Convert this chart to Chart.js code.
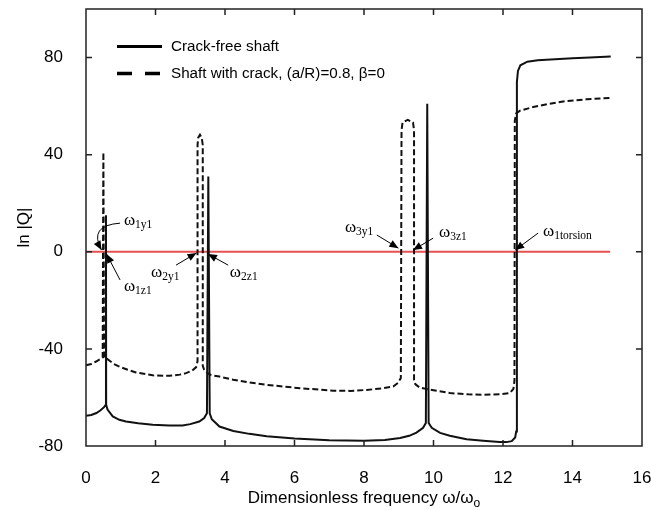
<!DOCTYPE html>
<html><head><meta charset="utf-8">
<script src="https://cdn.jsdelivr.net/npm/chart.js@4/dist/chart.umd.min.js"></script>
<style>html,body{margin:0;padding:0;background:#fff;}canvas{display:block}</style>
</head><body>
<canvas id="c" width="651" height="510"></canvas>
<script>
// ---- data ----
const crackFreeX = [0, 0.15, 0.3, 0.42, 0.52, 0.57, 0.575, 0.58, 0.62, 0.77, 0.96, 1.15, 1.5, 1.92, 2.4, 2.78, 3.0, 3.26, 3.4, 3.48, 3.52, 3.56, 3.62, 3.84, 4.24, 4.7, 5.2, 6.0, 7.0, 8.0, 8.6, 9.04, 9.3, 9.51, 9.7, 9.78, 9.82, 9.86, 9.95, 10.19, 10.47, 10.95, 11.43, 11.9, 12.1, 12.25, 12.35, 12.38, 12.4, 12.43, 12.5, 12.7, 13.0, 13.5, 14.0, 14.5, 15.1];
const crackFreeY = [-67.5, -67.2, -66.4, -65.3, -64, -63, 15, -63, -65, -67.8, -69.2, -69.9, -70.6, -71.2, -71.6, -71.6, -71, -69.9, -68.5, -66.5, 31, -66.5, -69, -72, -73.8, -75, -76, -76.9, -77.6, -77.8, -77.5, -76.7, -75.8, -74.5, -72.5, -70.5, 61, -70.5, -72.5, -74.6, -75.8, -77.2, -77.8, -78.4, -78.4, -78, -76.5, -74, 70, 74.5, 76.8, 78.3, 78.9, 79.3, 79.7, 80.0, 80.4];
const crackedX = [0, 0.15, 0.29, 0.4, 0.48, 0.5, 0.52, 0.58, 0.67, 0.8, 0.96, 1.2, 1.44, 1.92, 2.4, 2.7, 2.88, 3.05, 3.17, 3.21, 3.21, 3.23, 3.28, 3.33, 3.36, 3.36, 3.4, 3.5, 3.6, 3.84, 4.24, 4.7, 5.2, 6.16, 7.12, 7.6, 8.08, 8.5, 8.84, 8.98, 9.06, 9.08, 9.11, 9.26, 9.41, 9.44, 9.44, 9.48, 9.61, 10.0, 10.47, 11.0, 11.43, 11.9, 12.2, 12.3, 12.33, 12.34, 12.38, 12.5, 12.87, 13.3, 13.83, 14.4, 15.08];
const crackedY = [-46.8, -46.2, -45.2, -44.3, -43.5, 41, -43.5, -43.8, -44.8, -46.2, -47.3, -48.6, -49.7, -50.9, -51.1, -50.6, -50, -49, -47.5, -45, 44, 47, 48.2, 47, 44, -47, -48.6, -50, -50.8, -51.4, -52.7, -53.8, -54.8, -56.2, -57.2, -57.3, -56.9, -56.3, -55.5, -54, -52, 50, 53.3, 54.3, 53.3, 50, -52.7, -54.6, -56, -57, -58.2, -58.7, -58.9, -58.7, -58.2, -56.5, -53, 54, 57, 58.2, 59.6, 60.9, 62.1, 62.8, 63.4];
const zeroLineX = [0, 15.08];
const zeroLineY = [0, 0];
const xTickValues = [0, 2, 4, 6, 8, 10, 12, 14, 16];
const yTickValues = [-80, -40, 0, 40, 80];
const seriesNames = ['Crack-free shaft', 'Shaft with crack, (a/R)=0.8, \u03B2=0'];
const yTitle = 'ln |Q|';
const xTitleMain = 'Dimensionless frequency \u03C9/\u03C9';
const xTitleSub = 'o';
// frequency callouts: text anchor and arrow in data units
const callouts = [
  {sub: '1y1', tx: 1.09, ty: 12.6, ax: 0.98, ay: 11.8, cx: 0.06, cy: 10.8, bx: 0.446, by: 0.7},
  {sub: '1z1', tx: 1.09, ty: -14.5, ax: 0.98, ay: -11.6, bx: 0.59, by: -0.9},
  {sub: '2y1', tx: 1.87, ty: -8.8, ax: 2.59, ay: -5.5, bx: 3.18, by: -0.5},
  {sub: '2z1', tx: 4.14, ty: -8.8, ax: 4.09, ay: -5.5, bx: 3.51, by: -0.9},
  {sub: '3y1', tx: 7.45, ty: 9.7, ax: 8.37, ay: 6.9, bx: 8.99, by: 1.5},
  {sub: '3z1', tx: 10.16, ty: 7.7, ax: 9.99, ay: 5.6, bx: 9.41, by: 0.7},
  {sub: '1torsion', tx: 13.15, ty: 8.1, ax: 13.01, ay: 7.7, bx: 12.35, by: 0.7}
];

const pts = (xs, ys) => xs.map((x, i) => ({x: x, y: ys[i]}));
const SANS = '"Liberation Sans", Arial, sans-serif';
const SERIF = '"Liberation Serif", "Times New Roman", serif';

function arrowHead(ctx, fx, fy, tx, ty) {
  const ang = Math.atan2(ty - fy, tx - fx);
  const L = 9, W = 3.8;
  ctx.beginPath();
  ctx.moveTo(tx, ty);
  ctx.lineTo(tx - L * Math.cos(ang) + W * Math.sin(ang), ty - L * Math.sin(ang) - W * Math.cos(ang));
  ctx.lineTo(tx - L * Math.cos(ang) - W * Math.sin(ang), ty - L * Math.sin(ang) + W * Math.cos(ang));
  ctx.closePath();
  ctx.fill();
}

const decor = {
  id: 'decor',
  afterDraw(chart) {
    const ctx = chart.ctx, xs = chart.scales.x, ys = chart.scales.y, a = chart.chartArea;
    ctx.save();
    // frame
    ctx.strokeStyle = '#222'; ctx.lineWidth = 1.5;
    ctx.strokeRect(a.left, a.top, a.right - a.left, a.bottom - a.top);
    // inward ticks
    ctx.beginPath();
    xTickValues.forEach(v => {
      if (v === xs.min || v === xs.max) return;
      const p = xs.getPixelForValue(v);
      ctx.moveTo(p, a.bottom); ctx.lineTo(p, a.bottom - 6);
      ctx.moveTo(p, a.top); ctx.lineTo(p, a.top + 6);
    });
    yTickValues.forEach(v => {
      if (v === ys.min || v === ys.max) return;
      const p = ys.getPixelForValue(v);
      ctx.moveTo(a.left, p); ctx.lineTo(a.left + 6, p);
      ctx.moveTo(a.right, p); ctx.lineTo(a.right - 6, p);
    });
    ctx.stroke();
    // x title with subscript
    ctx.fillStyle = '#000';
    ctx.font = '17px ' + SANS;
    ctx.textBaseline = 'alphabetic';
    const wMain = ctx.measureText(xTitleMain).width;
    ctx.font = '12px ' + SANS;
    const wSub = ctx.measureText(xTitleSub).width;
    const cx = (a.left + a.right) / 2;
    const x0 = cx - (wMain + wSub) / 2;
    ctx.font = '17px ' + SANS;
    ctx.textAlign = 'left';
    ctx.fillText(xTitleMain, x0, 503);
    ctx.font = '12px ' + SANS;
    ctx.fillText(xTitleSub, x0 + wMain, 507);
    // legend
    const ds = chart.data.datasets;
    ctx.strokeStyle = '#000';
    ctx.lineWidth = 3;
    ctx.setLineDash([]);
    ctx.beginPath(); ctx.moveTo(117, 46.5); ctx.lineTo(162, 46.5); ctx.stroke();
    ctx.lineWidth = 3.5;
    ctx.setLineDash([15, 13]);
    ctx.beginPath(); ctx.moveTo(117, 73.5); ctx.lineTo(162, 73.5); ctx.stroke();
    ctx.setLineDash([]);
    ctx.font = '15.2px ' + SANS;
    ctx.textBaseline = 'middle';
    ctx.fillText(ds[0].label, 171, 46.5);
    ctx.fillText(ds[1].label, 171, 73.5);
    // callouts
    ctx.lineWidth = 1;
    ctx.strokeStyle = '#000';
    ctx.fillStyle = '#000';
    callouts.forEach(c => {
      const tx = xs.getPixelForValue(c.tx), ty = ys.getPixelForValue(c.ty);
      ctx.textBaseline = 'alphabetic';
      ctx.font = '17px ' + SERIF;
      ctx.fillText('\u03C9', tx, ty + 4);
      const w = ctx.measureText('\u03C9').width;
      ctx.font = '11.5px ' + SERIF;
      ctx.fillText(c.sub, tx + w, ty + 7);
      const ax = xs.getPixelForValue(c.ax), ay = ys.getPixelForValue(c.ay);
      const bx = xs.getPixelForValue(c.bx), by = ys.getPixelForValue(c.by);
      ctx.beginPath();
      ctx.moveTo(ax, ay);
      if (c.cx !== undefined) {
        const qx = xs.getPixelForValue(c.cx), qy = ys.getPixelForValue(c.cy);
        ctx.quadraticCurveTo(qx, qy, bx, by);
        ctx.stroke();
        arrowHead(ctx, qx, qy, bx, by);
      } else {
        ctx.lineTo(bx, by);
        ctx.stroke();
        arrowHead(ctx, ax, ay, bx, by);
      }
    });
    ctx.restore();
  }
};

new Chart(document.getElementById('c'), {
  type: 'line',
  data: {
    datasets: [
      {label: seriesNames[0], data: pts(crackFreeX, crackFreeY), borderColor: '#111', borderWidth: 2, pointRadius: 0, tension: 0},
      {label: seriesNames[1], data: pts(crackedX, crackedY), borderColor: '#111', borderWidth: 2, borderDash: [6, 3], pointRadius: 0, tension: 0},
      {label: 'zero', data: pts(zeroLineX, zeroLineY), borderColor: 'rgb(232,80,80)', borderWidth: 2, pointRadius: 0}
    ]
  },
  options: {
    responsive: false,
    animation: false,
    layout: {padding: {left: 0, right: 9, top: 9, bottom: 0}},
    plugins: {legend: {display: false}, tooltip: {enabled: false}},
    scales: {
      x: {
        type: 'linear', min: 0, max: 16,
        afterBuildTicks: s => { s.ticks = xTickValues.map(v => ({value: v})); },
        afterFit: s => { s.height = 64; s.paddingLeft = 0; s.paddingRight = 0; },
        grid: {display: false}, border: {display: false},
        ticks: {color: '#000', font: {size: 17, family: SANS}, padding: 14, maxRotation: 0}
      },
      y: {
        type: 'linear', min: -80, max: 100,
        afterBuildTicks: s => { s.ticks = yTickValues.map(v => ({value: v})); },
        afterFit: s => { s.width = 86; s.paddingTop = 0; s.paddingBottom = 0; },
        grid: {display: false}, border: {display: false},
        ticks: {color: '#000', font: {size: 17, family: SANS}, padding: 15},
        title: {display: true, text: yTitle, color: '#000', font: {size: 17, family: SANS}, padding: {top: 14, bottom: 0}}
      }
    }
  },
  plugins: [decor]
});
</script>
</body></html>
